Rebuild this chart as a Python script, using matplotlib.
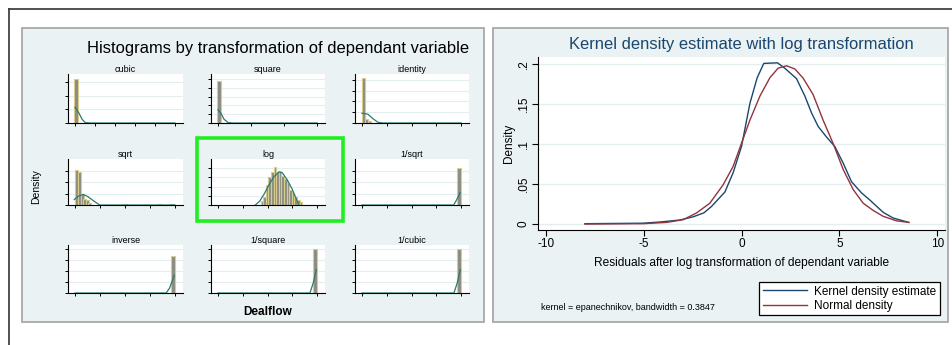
import numpy as np
import matplotlib
matplotlib.use("Agg")
from matplotlib import pyplot as plt
from matplotlib.patches import Rectangle
from matplotlib.lines import Line2D

plt.rcParams['font.family'] = ['Liberation Sans', 'DejaVu Sans']
plt.rcParams['axes.unicode_minus'] = False

W, H = 952, 345

# ---- small histogram panels (x in tick-span units 0..1, y as fraction of panel height)
panel_names = ["cubic", "square", "identity", "sqrt", "log", "1/sqrt", "inverse", "1/square", "1/cubic"]
panel_xticks = [6, 4, 5, 5, 5, 5, 5, 5, 5]
panel_ystep = [0.28, 0.18, 0.22, 0.25, 0.20, 0.25, 0.23, 0.23, 0.23]
bar_width = [0.035, 0.033, 0.032, 0.03, 0.026, 0.033, 0.035, 0.033, 0.033]

bar_pos = [
    [0.01],
    [0.01],
    [0.015, 0.048, 0.08],
    [0.01, 0.043, 0.072, 0.095, 0.12, 0.148, 0.51, 0.85, 0.97],
    [0.0, 0.443, 0.469, 0.495, 0.521, 0.548, 0.574, 0.600, 0.626, 0.652,
     0.679, 0.705, 0.731, 0.757, 0.784, 0.810, 0.836],
    [0.01, 0.86, 0.98],
    [0.01, 0.5, 0.83, 0.98],
    [0.0, 0.98],
    [0.0, 0.86, 0.98],
]
bar_height = [
    [0.90],
    [0.86],
    [0.92, 0.09, 0.04],
    [0.77, 0.72, 0.23, 0.12, 0.10, 0.05, 0.015, 0.015, 0.015],
    [0.01, 0.084, 0.176, 0.443, 0.618, 0.725, 0.824, 0.710, 0.748, 0.634,
     0.557, 0.481, 0.328, 0.267, 0.176, 0.099, 0.061],
    [0.01, 0.01, 0.80],
    [0.01, 0.01, 0.01, 0.78],
    [0.01, 0.92],
    [0.01, 0.01, 0.92],
]
curve_x = [
    [0.0, 0.04, 0.07, 0.10, 0.15, 1.0],
    [0.0, 0.03, 0.06, 0.10, 0.15, 1.0],
    [0.0, 0.06, 0.11, 0.16, 0.21, 1.0],
    [-0.007, 0.033, 0.082, 0.13, 0.18, 0.23, 0.25, 1.0],
    [0.377, 0.42, 0.469, 0.518, 0.567, 0.616, 0.649, 0.698, 0.748, 0.797, 0.813],
    [0.0, 0.925, 0.957, 0.99],
    [0.0, 0.912, 0.945, 0.967, 0.993],
    [0.0, 0.928, 0.96, 0.993],
    [0.0, 0.928, 0.96, 0.993],
]
curve_y = [
    [0.32, 0.20, 0.08, 0.01, 0.0, 0.0],
    [0.27, 0.20, 0.08, 0.01, 0.0, 0.0],
    [0.20, 0.18, 0.09, 0.015, 0.0, 0.0],
    [0.12, 0.19, 0.23, 0.18, 0.10, 0.023, 0.0, 0.0],
    [0.0, 0.08, 0.25, 0.45, 0.62, 0.72, 0.70, 0.55, 0.35, 0.10, 0.0],
    [0.0, 0.0, 0.12, 0.27],
    [0.0, 0.0, 0.10, 0.22, 0.37],
    [0.0, 0.0, 0.20, 0.49],
    [0.0, 0.0, 0.20, 0.49],
]

# ---- kernel density vs normal (right panel)
kde_x = [-8.0, -5.03, -4.17, -3.15, -2.47, -1.92, -1.53, -0.85, -0.43, 0.0, 0.43, 0.80,
         1.14, 1.84, 2.21, 2.81, 3.24, 3.58, 3.92, 4.34, 4.77, 5.20, 5.62, 6.13, 6.56,
         7.24, 7.75, 8.55]
kde_y = [0.0004, 0.001, 0.0025, 0.005, 0.009, 0.014, 0.022, 0.040, 0.064, 0.097, 0.151,
         0.183, 0.201, 0.2017, 0.195, 0.182, 0.160, 0.139, 0.122, 0.109, 0.097, 0.076,
         0.053, 0.039, 0.030, 0.0146, 0.0075, 0.002]
norm_x = [-8.0, -5.03, -3.83, -2.98, -2.30, -1.62, -0.94, -0.43, 0.0, 0.43, 0.94, 1.45,
          1.87, 2.30, 2.73, 3.15, 3.66, 4.17, 4.68, 5.20, 5.71, 6.22, 6.73, 7.24, 7.92, 8.55]
norm_y = [0.0, 0.0004, 0.002, 0.0054, 0.0138, 0.026, 0.049, 0.072, 0.101, 0.130, 0.160,
          0.183, 0.195, 0.198, 0.194, 0.1825, 0.162, 0.130, 0.101, 0.068, 0.043, 0.026,
          0.017, 0.0096, 0.004, 0.002]
kde_xticks = [-10, -5, 0, 5, 10]
kde_yticks = [0, 0.05, 0.1, 0.15, 0.2]
kde_yticklabels = ["0", ".05", ".1", ".15", ".2"]

BG = '#eaf2f3'
GRID = '#e4eef0'
BLUE = '#1a476f'
RED = '#90353b'
TEAL = '#2a7a6e'


def px(x0, y0, x1, y1):
    return [x0 / W, 1 - y1 / H, (x1 - x0) / W, (y1 - y0) / H]


def frac(x, y):
    return x / W, 1 - y / H


fig = plt.figure(figsize=(W / 100, H / 100), dpi=100)
fig.patch.set_facecolor('white')

# outer frame (top and left edges)
fig.add_artist(Line2D([9 / W, 1], [1 - 9 / H, 1 - 9 / H], color='#333333', lw=1.2,
                      transform=fig.transFigure))
fig.add_artist(Line2D([9 / W, 9 / W], [0, 1 - 9 / H], color='#333333', lw=1.2,
                      transform=fig.transFigure))

# panel backgrounds
for x0, x1 in [(22, 484), (493, 948)]:
    r = px(x0, 28, x1, 322)
    fig.add_artist(Rectangle((r[0], r[1]), r[2], r[3], transform=fig.transFigure,
                             facecolor=BG, edgecolor='#a8a8a8', lw=1.3, zorder=0))

# ---- left panel
fig.text(*frac(278, 48), "Histograms by transformation of dependant variable",
         fontsize=11.9, ha='center', va='center', color='black')
fig.text(*frac(36, 187), "Density", fontsize=7.5, rotation=90, ha='center', va='center')
fig.text(*frac(268, 312), "Dealflow", fontsize=8.5, fontweight='bold', ha='center', va='center')

cols = [(68, 183), (211, 325), (355, 469)]
rows = [(74, 123), (159, 205), (245, 293)]

for i, name in enumerate(panel_names):
    x0, x1 = cols[i % 3]
    y0, y1 = rows[i // 3]
    ax = fig.add_axes(px(x0, y0, x1, y1))
    ax.set_facecolor('white')
    ax.bar(bar_pos[i], bar_height[i], width=bar_width[i], color='#8c8c84',
           edgecolor='#d8cc8c', linewidth=0.8, zorder=2)
    ax.plot(curve_x[i], curve_y[i], color=TEAL, lw=0.9, zorder=3)
    ax.set_xlim(-0.07, 1.08)
    ax.set_ylim(0, 1.0)
    ax.set_xticks(np.linspace(0, 1, panel_xticks[i]))
    ax.set_yticks(np.arange(0, 0.99, panel_ystep[i]))
    ax.set_xticklabels([])
    ax.set_yticklabels([])
    ax.tick_params(length=2.5, width=0.7, color='black')
    ax.yaxis.grid(True, color=GRID, lw=0.8, zorder=0)
    ax.set_axisbelow(True)
    for s in ['top', 'right']:
        ax.spines[s].set_visible(False)
    for s in ['left', 'bottom']:
        ax.spines[s].set_linewidth(0.8)
    ax.set_title(name, fontsize=6.5, pad=1.2)

# highlight around the log panel
r = px(197, 138, 343, 221)
fig.add_artist(Rectangle((r[0], r[1]), r[2], r[3], transform=fig.transFigure,
                         fill=False, edgecolor='#22ee22', lw=2.6, zorder=5))

# ---- right panel
fig.text(*frac(741, 45), "Kernel density estimate with log transformation",
         fontsize=11.9, ha='center', va='center', color=BLUE)

ax = fig.add_axes(px(538, 57, 945, 230))
ax.set_facecolor('white')
ax.plot(kde_x, kde_y, color=BLUE, lw=1.0, label="Kernel density estimate")
ax.plot(norm_x, norm_y, color=RED, lw=1.0, label="Normal density")
ax.set_xlim(-10.4, 10.4)
ax.set_ylim(-0.0075, 0.209)
ax.set_xticks(kde_xticks)
ax.set_yticks(kde_yticks)
ax.set_yticklabels(kde_yticklabels, rotation=90, va='center')
ax.tick_params(labelsize=8.5, length=4, width=0.8, pad=2)
ax.yaxis.grid(True, color=GRID, lw=1.0)
ax.set_axisbelow(True)
for s in ['top', 'right']:
    ax.spines[s].set_visible(False)
ax.set_ylabel("Density", fontsize=8.5, labelpad=2)
ax.set_xlabel("Residuals after log transformation of dependant variable", fontsize=8.6, labelpad=5)

fig.text(*frac(541, 307), "kernel = epanechnikov, bandwidth = 0.3847", fontsize=6.5,
         ha='left', va='center')

handles, labels = ax.get_legend_handles_labels()
leg = fig.legend(handles, labels, loc='upper left', bbox_to_anchor=frac(759, 282),
                 fontsize=8.5, frameon=True, fancybox=False, framealpha=1,
                 edgecolor='black', handlelength=3.8, handletextpad=0.6,
                 borderpad=0.3, labelspacing=0.2, borderaxespad=0)
leg.get_frame().set_linewidth(0.9)

plt.savefig("out.png", dpi=100)
